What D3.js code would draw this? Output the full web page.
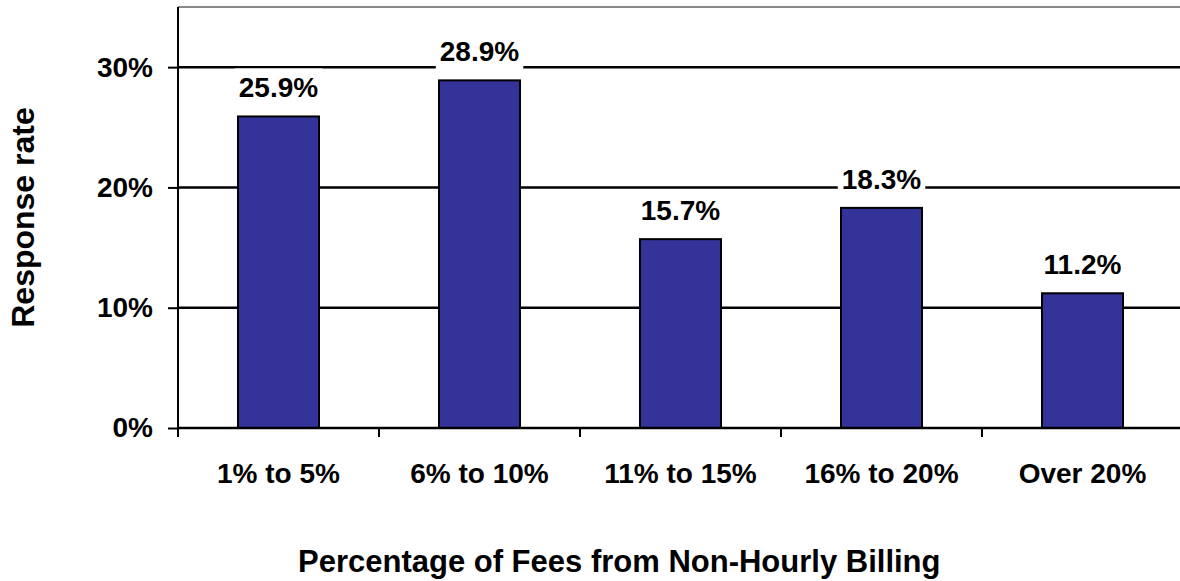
<!DOCTYPE html>
<html>
<head>
<meta charset="utf-8">
<script src="https://cdn.jsdelivr.net/npm/d3@7"></script>
<style>
  html, body { margin: 0; padding: 0; background: #fff; }
  svg { display: block; font-family: "Liberation Sans", Arial, sans-serif; font-weight: bold; }
</style>
</head>
<body>
<svg id="chart" width="1180" height="581"></svg>
<script>
// Response rate by share of fees from non-hourly billing
const categories = ["1% to 5%", "6% to 10%", "11% to 15%", "16% to 20%", "Over 20%"];
const responseRates = [25.9, 28.9, 15.7, 18.3, 11.2];
const yTicks = [0, 10, 20, 30];
const yTickLabels = ["0%", "10%", "20%", "30%"];
const xTitle = "Percentage of Fees from Non-Hourly Billing";
const yTitle = "Response rate";

const svg = d3.select("#chart");
const plot = { left: 178, right: 1183, top: 7, bottom: 428 };
const fontSize = 28;

const x = d3.scaleBand()
  .domain(categories)
  .range([plot.left, plot.right])
  .paddingInner(0.597)
  .paddingOuter(0.597 / 2);

const y = d3.scaleLinear()
  .domain([0, 35])
  .range([plot.bottom, plot.top]);

// top border of plot area
svg.append("line")
  .attr("x1", plot.left).attr("x2", plot.right + 10)
  .attr("y1", y(35)).attr("y2", y(35))
  .attr("stroke", "#888").attr("stroke-width", 2);

// horizontal gridlines
svg.append("g").selectAll("line")
  .data(yTicks.filter(d => d > 0))
  .join("line")
  .attr("x1", plot.left).attr("x2", plot.right + 10)
  .attr("y1", d => y(d)).attr("y2", d => y(d))
  .attr("stroke", "#000").attr("stroke-width", 2.5);

// bars
svg.append("g").selectAll("rect")
  .data(responseRates)
  .join("rect")
  .attr("x", (d, i) => x(categories[i]))
  .attr("width", x.bandwidth())
  .attr("y", d => y(d))
  .attr("height", d => y(0) - y(d))
  .attr("fill", "#333399")
  .attr("stroke", "#000")
  .attr("stroke-width", 2);

// value labels with white backing boxes
const labels = svg.append("g").selectAll("g")
  .data(responseRates)
  .join("g")
  .attr("transform", (d, i) => `translate(${x(categories[i]) + x.bandwidth() / 2},${y(d) - 19})`);

labels.append("rect").attr("class", "bg").attr("fill", "#fff");
labels.append("text")
  .attr("text-anchor", "middle")
  .attr("font-size", fontSize)
  .attr("fill", "#000")
  .text(d => d.toFixed(1) + "%");

labels.each(function () {
  const g = d3.select(this);
  const bb = g.select("text").node().getBBox();
  g.select("rect.bg")
    .attr("x", bb.x - 4).attr("width", bb.width + 8)
    .attr("y", bb.y - 4).attr("height", bb.height + 8);
});

// y axis
const yAxis = d3.axisLeft(y)
  .tickValues(yTicks)
  .tickFormat((d, i) => yTickLabels[i])
  .tickSize(10)
  .tickPadding(15);

const yg = svg.append("g")
  .attr("transform", `translate(${plot.left},0)`)
  .call(yAxis);
yg.select(".domain")
  .attr("d", `M0,${plot.top}V${plot.bottom}`)
  .attr("stroke", "#000").attr("stroke-width", 2);
yg.selectAll(".tick line").attr("stroke", "#000").attr("stroke-width", 2);
yg.selectAll(".tick text")
  .attr("font-size", fontSize)
  .attr("font-family", "Liberation Sans, Arial, sans-serif")
  .attr("font-weight", "bold")
  .attr("fill", "#000");

// x axis baseline with ticks at category boundaries
const boundaries = d3.range(categories.length + 1).map(i => plot.left + i * x.step());
svg.append("line")
  .attr("x1", plot.left).attr("x2", plot.right + 10)
  .attr("y1", y(0)).attr("y2", y(0))
  .attr("stroke", "#000").attr("stroke-width", 2.5);
svg.append("g").selectAll("line")
  .data(boundaries)
  .join("line")
  .attr("x1", d => d).attr("x2", d => d)
  .attr("y1", y(0)).attr("y2", y(0) + 9)
  .attr("stroke", "#000").attr("stroke-width", 2);

// category labels
svg.append("g").selectAll("text")
  .data(categories)
  .join("text")
  .attr("x", d => x(d) + x.bandwidth() / 2)
  .attr("y", 483)
  .attr("text-anchor", "middle")
  .attr("font-size", fontSize)
  .attr("fill", "#000")
  .text(d => d);

// axis titles
svg.append("text")
  .attr("x", 298).attr("y", 572)
  .attr("text-anchor", "start")
  .attr("font-size", 31)
  .attr("fill", "#000")
  .text(xTitle);

svg.append("text")
  .attr("transform", `translate(34,${(plot.top + plot.bottom) / 2}) rotate(-90)`)
  .attr("text-anchor", "middle")
  .attr("font-size", 32)
  .attr("fill", "#000")
  .text(yTitle);
</script>
</body>
</html>
